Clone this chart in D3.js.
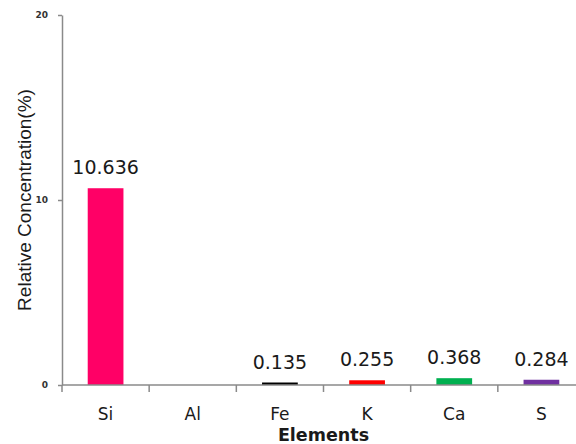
<!DOCTYPE html>
<html>
<head>
<meta charset="utf-8">
<script src="https://cdn.jsdelivr.net/npm/d3@7"></script>
<style>
  html, body { margin: 0; padding: 0; background: #fff; }
  svg { display: block; }
</style>
</head>
<body>
<svg id="chart" width="576" height="444"></svg>
<script>
// Element concentrations (%)
const elements = ["Si", "Al", "Fe", "K", "Ca", "S"];
const concentrations = [10.636, 0, 0.135, 0.255, 0.368, 0.284];
const barColors = ["#FF0066", "#FFFFFF", "#000000", "#FF0000", "#00B050", "#7030A0"];
const yTickValues = [0, 10, 20];

const svg = d3.select("#chart");
const axisColor = "#8a8a8a";

const plotLeft = 62, plotRight = 585, plotTop = 15, plotBottom = 385;

const x = d3.scaleBand().domain(elements).range([plotLeft, plotRight]).padding(0);
const y = d3.scaleLinear().domain([0, 20]).range([plotBottom, plotTop]);
const bw = x.bandwidth();
const barW = bw * 0.41;

// bars
svg.append("g").selectAll("rect")
  .data(elements.map((e, i) => ({ e, v: concentrations[i], c: barColors[i] })).filter(d => d.v > 0))
  .join("rect")
  .attr("x", d => x(d.e) + (bw - barW) / 2)
  .attr("width", barW)
  .attr("y", d => y(d.v))
  .attr("height", d => y(0) - y(d.v))
  .attr("fill", d => d.c);

// value labels above bars
svg.append("g").selectAll("text")
  .data(elements.map((e, i) => ({ e, v: concentrations[i] })).filter(d => d.v > 0))
  .join("text")
  .attr("x", d => x(d.e) + bw / 2)
  .attr("y", d => y(d.v) - 14)
  .attr("text-anchor", "middle")
  .attr("font-family", "DejaVu Sans, Verdana, sans-serif")
  .attr("font-size", 19)
  .attr("fill", "#1a1a1a")
  .text(d => String(d.v));

// y axis
const yAxis = svg.append("g")
  .attr("transform", `translate(${plotLeft},0)`)
  .call(d3.axisLeft(y).tickValues(yTickValues).tickSize(4).tickSizeOuter(0).tickPadding(10));
yAxis.select(".domain").attr("stroke", axisColor).attr("stroke-width", 1.5);
yAxis.selectAll(".tick line").attr("stroke", axisColor).attr("stroke-width", 1.5);
yAxis.selectAll(".tick text")
  .attr("font-family", "DejaVu Sans, Verdana, sans-serif")
  .attr("font-weight", "bold")
  .attr("font-size", 9)
  .attr("fill", "#333");

// x axis line and boundary ticks
const xg = svg.append("g");
xg.append("line")
  .attr("x1", plotLeft).attr("x2", 576)
  .attr("y1", y(0)).attr("y2", y(0))
  .attr("stroke", axisColor).attr("stroke-width", 1.5);
xg.selectAll("line.tk")
  .data(elements)
  .join("line")
  .attr("class", "tk")
  .attr("x1", d => x(d)).attr("x2", d => x(d))
  .attr("y1", y(0)).attr("y2", y(0) + 7)
  .attr("stroke", axisColor).attr("stroke-width", 1.5);

// category labels
xg.selectAll("text")
  .data(elements)
  .join("text")
  .attr("x", d => x(d) + bw / 2)
  .attr("y", 420)
  .attr("text-anchor", "middle")
  .attr("font-family", "DejaVu Sans, Verdana, sans-serif")
  .attr("font-size", 17)
  .attr("fill", "#1a1a1a")
  .text(d => d);

// axis titles
svg.append("text")
  .attr("x", (plotLeft + plotRight) / 2)
  .attr("y", 441)
  .attr("text-anchor", "middle")
  .attr("font-family", "DejaVu Sans, Verdana, sans-serif")
  .attr("font-weight", "bold")
  .attr("font-size", 17.5)
  .attr("fill", "#1a1a1a")
  .text("Elements");

svg.append("text")
  .attr("transform", "translate(31,200) rotate(-90)")
  .attr("text-anchor", "middle")
  .attr("font-family", "Liberation Sans, Arial, sans-serif")
  .attr("font-size", 19)
  .attr("fill", "#1a1a1a")
  .text("Relative Concentration(%)");
</script>
</body>
</html>
